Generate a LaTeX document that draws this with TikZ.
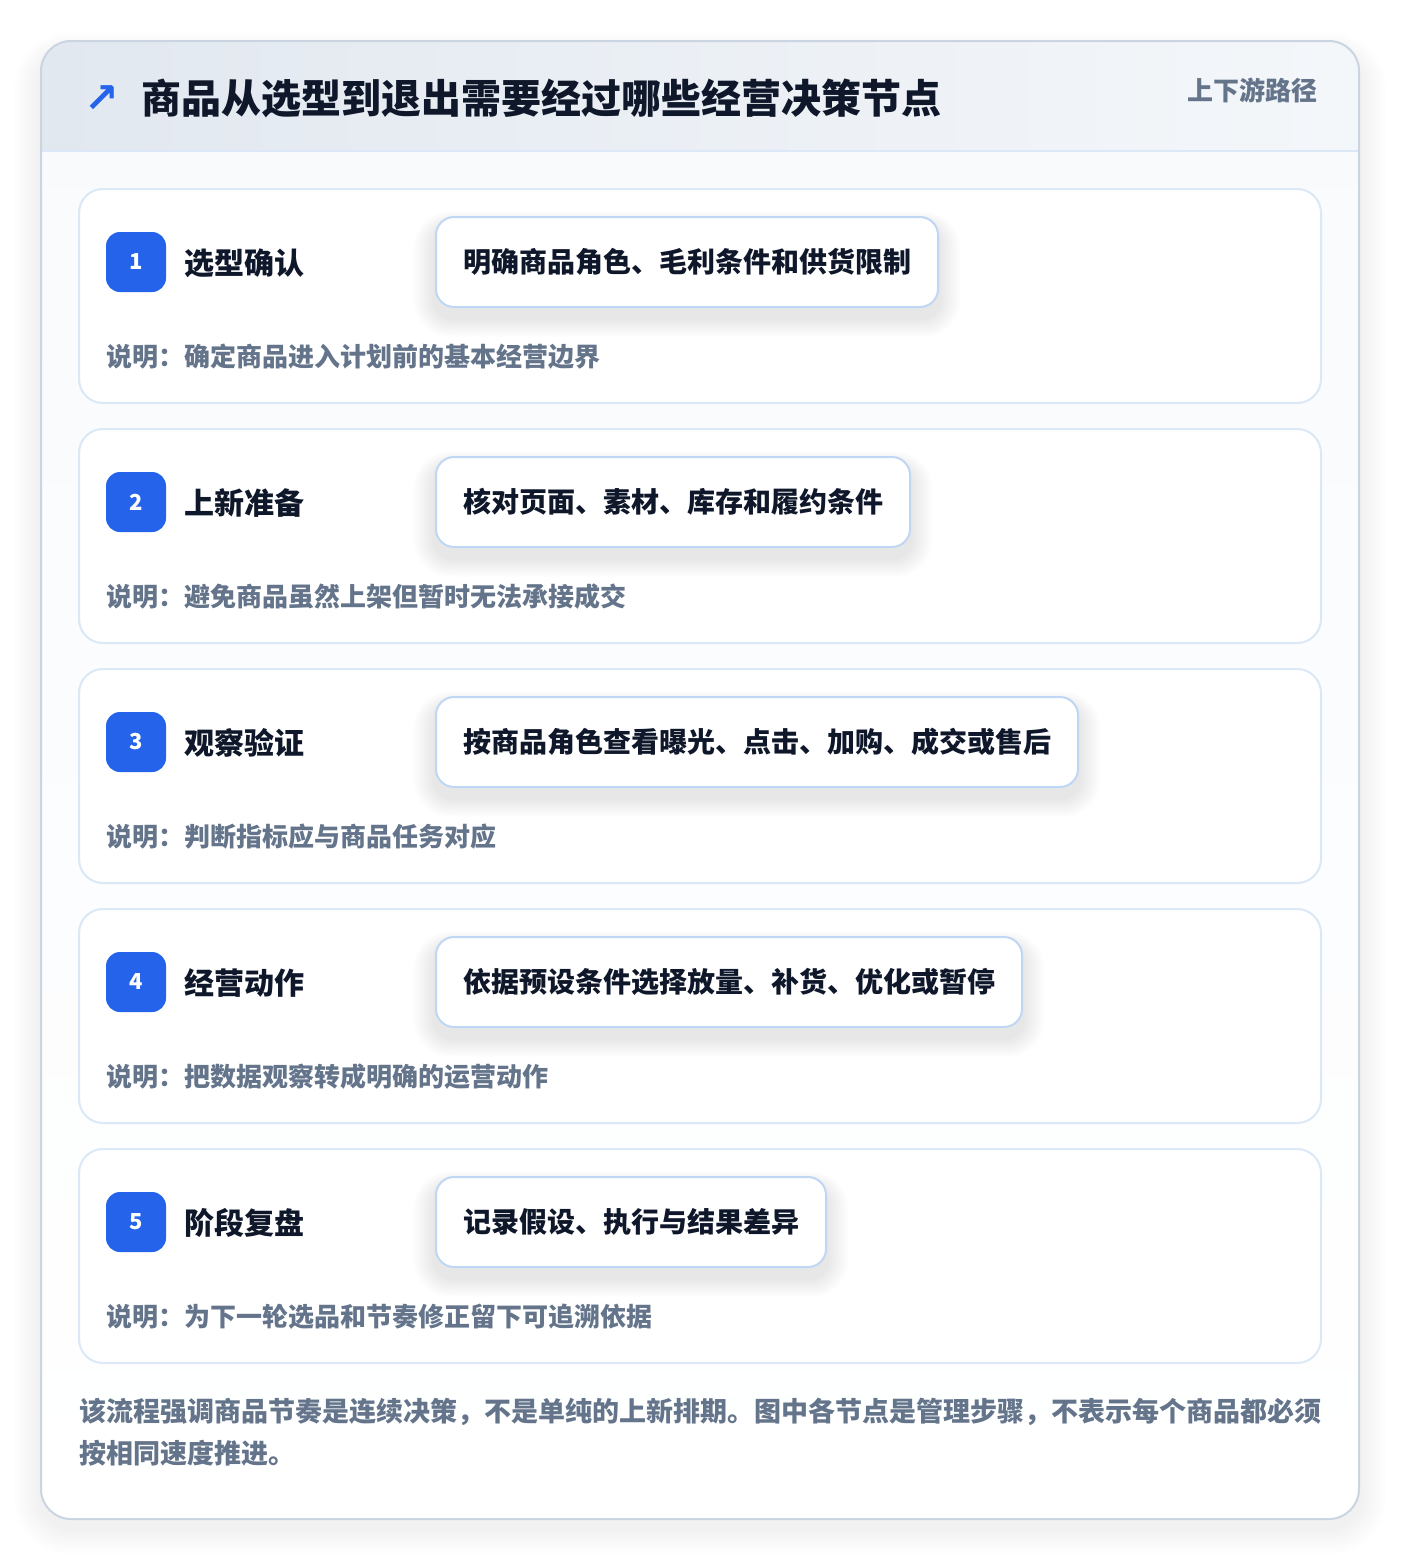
\documentclass[tikz,border=0pt]{standalone}
\usepackage{fontspec}
\setmainfont{Noto Sans CJK SC}
\newfontfamily\symfont{DejaVu Sans}
\usetikzlibrary{calc}
\definecolor{brand}{HTML}{2563EB}
\definecolor{ink}{HTML}{0F172A}
\definecolor{slate}{HTML}{64748B}
\definecolor{cardbg}{HTML}{F8FAFC}
\definecolor{hdrL}{HTML}{E2E8F0}
\definecolor{hdrR}{HTML}{F4F7FA}
\definecolor{hdrline}{HTML}{DCE8F8}
\definecolor{outerborder}{HTML}{CBD5E1}
\definecolor{stepborder}{HTML}{DBE8F8}
\definecolor{boxborder}{HTML}{BFD6F4}
\pgfdeclarelayer{bglayer}
\pgfdeclarelayer{cardlayer}
\pgfdeclarelayer{shadlayer}
\pgfsetlayers{bglayer,cardlayer,shadlayer,main}
\begin{document}
\begin{tikzpicture}[x=0.75pt,y=-0.75pt,
  stepcard/.style={draw=stepborder, line width=1.5pt, fill=white, rounded corners=18pt,
    minimum width=931.5pt, minimum height=160.5pt, inner sep=0pt},
  badge/.style={fill=brand, rounded corners=10.5pt, minimum width=45pt, minimum height=45pt,
    inner sep=0pt, text=white, font=\bfseries\fontsize{16.5pt}{20pt}\selectfont},
  steptitle/.style={anchor=west, inner sep=0pt, text=ink, font=\bfseries\fontsize{22.5pt}{27pt}\selectfont},
  actionbox/.style={anchor=west, draw=boxborder, line width=1.5pt, fill=white, rounded corners=13.5pt,
    minimum height=67.5pt, inner xsep=20.25pt, inner ysep=0pt, text=ink,
    font=\bfseries\fontsize{21pt}{25pt}\selectfont},
  desc/.style={anchor=west, inner sep=0pt, text=slate, font=\bfseries\fontsize{19.5pt}{24pt}\selectfont}
]
\useasboundingbox (0,0) rectangle (1400,1560);
\begin{pgfonlayer}{bglayer}
\fill[white] (0,0) rectangle (1400,1560);
% soft shadow of the outer card
\foreach \k in {1,...,14}{
  \fill[black, opacity=0.005, rounded corners={22.5pt+\k*1.5pt}]
    (41-\k*2,41-\k*1.5+12) rectangle (1359+\k*2,1519+\k*2+8);
}
% outer card
\shade[top color=cardbg, bottom color=white, rounded corners=22.5pt] (41,41) rectangle (1359,1519);
\begin{scope}
  \clip[rounded corners=22.5pt] (41,41) rectangle (1359,1519);
  \shade[left color=hdrL, right color=hdrR] (41,41) rectangle (1359,151);
\end{scope}
\draw[line width=1.5pt, hdrline] (41,151) -- (1359,151);
\draw[line width=1.5pt, outerborder, rounded corners=22.5pt] (41,41) rectangle (1359,1519);
\end{pgfonlayer}
% header
\node[inner sep=0pt, text=brand, font=\symfont\bfseries\fontsize{31pt}{34pt}\selectfont] (icon) at (102,99) {↗};
\node[anchor=west, inner sep=0pt, text=ink, font=\bfseries\fontsize{30pt}{36pt}\selectfont] (title) at (141,98)
  {商品从选型到退出需要经过哪些经营决策节点};
\node[anchor=east, inner sep=0pt, text=slate, font=\bfseries\fontsize{19.5pt}{24pt}\selectfont] (tag) at (1318,90)
  {上下游路径};
% steps
\foreach \i/\t/\b/\d in {
  1/选型确认/明确商品角色、毛利条件和供货限制/说明：确定商品进入计划前的基本经营边界,
  2/上新准备/核对页面、素材、库存和履约条件/说明：避免商品虽然上架但暂时无法承接成交,
  3/观察验证/按商品角色查看曝光、点击、加购、成交或售后/说明：判断指标应与商品任务对应,
  4/经营动作/依据预设条件选择放量、补货、优化或暂停/说明：把数据观察转成明确的运营动作,
  5/阶段复盘/记录假设、执行与结果差异/说明：为下一轮选品和节奏修正留下可追溯依据}{
  \pgfmathsetmacro\yy{189+(\i-1)*240}
  \begin{pgfonlayer}{cardlayer}
    \node[stepcard] (card\i) at (700,\yy+107) {};
  \end{pgfonlayer}
  \node[badge] (badge\i) at (136,\yy+73) {\i};
  \node[steptitle] (title\i) at (184,\yy+74) {\t};
  \node[actionbox] (action\i) at (435,\yy+73) {\b};
  \node[desc] (desc\i) at (106,\yy+168) {\d};
  \begin{pgfonlayer}{shadlayer}
    \foreach \k in {1,...,12}{
      \fill[black, opacity=0.006, rounded corners={13.5pt+\k*1.2pt}]
        ($(action\i.north west)+(-\k*1.8,-\k*1.2+10)$) rectangle ($(action\i.south east)+(\k*1.8,\k*1.6+10)$);
    }
  \end{pgfonlayer}
}
% footer
\node[anchor=north west, inner sep=0pt, text=slate, align=left,
  font=\bfseries\fontsize{20.25pt}{31.5pt}\selectfont] (note) at (79,1398)
  {该流程强调商品节奏是连续决策，不是单纯的上新排期。图中各节点是管理步骤，不表示每个商品都必须\\按相同速度推进。};
\end{tikzpicture}
\end{document}
